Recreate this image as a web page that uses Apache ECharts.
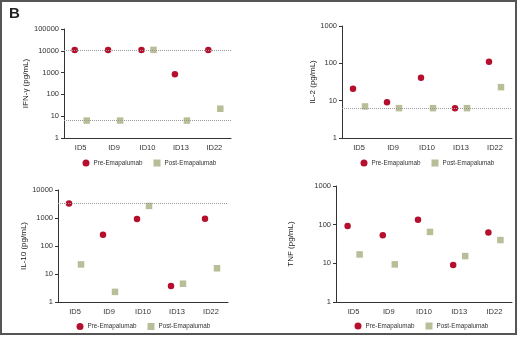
<!DOCTYPE html>
<html>
<head>
<meta charset="utf-8">
<script src="https://cdn.jsdelivr.net/npm/echarts@6/dist/echarts.min.js"></script>
<style>
  html, body { margin: 0; padding: 0; background: #fff; }
  #chart { width: 520px; height: 337px; }
</style>
</head>
<body>
<div id="chart"></div>
<script>
// patient ids on the x axis of every panel
var patients = ['ID5', 'ID9', 'ID10', 'ID13', 'ID22'];

// cytokine levels (pg/mL)
var ifngPre  = [11000, 11000, 11000, 830, 11000];
var ifngPost = [6.3, 6.3, 11000, 6.3, 22];
var il2Pre   = [21, 9, 41, 6.3, 110];
var il2Post  = [7, 6.3, 6.3, 6.3, 23];
var il10Pre  = [3300, 250, 920, 3.7, 940];
var il10Post = [22, 2.3, 2700, 4.5, 16];
var tnfPre   = [93, 53, 135, 9, 63];
var tnfPost  = [17, 9.4, 65, 15.4, 40];

// dotted reference lines (detection limits)
var ifngLines = [11000, 6.3];
var il2Lines  = [6.3];
var il10Lines = [3300];
var tnfLines  = [];

var yNames = ['IFN-\u03b3 (pg/mL)', 'IL-2 (pg/mL)', 'IL-10 (pg/mL)', 'TNF (pg/mL)'];
var yMax   = [100000, 1000, 10000, 1000];

var preName = 'Pre-Emapalumab';
var postName = 'Post-Emapalumab';

var panels = [
  { pre: ifngPre, post: ifngPost, lines: ifngLines, grid: { left: 64, top: 29, width: 167, height: 109 }, nameGap: 34, legend: { left: 82.5, top: 159.5 } },
  { pre: il2Pre,  post: il2Post,  lines: il2Lines,  grid: { left: 342, top: 26, width: 170, height: 112 }, nameGap: 23, legend: { left: 360.5, top: 159.5 } },
  { pre: il10Pre, post: il10Post, lines: il10Lines, grid: { left: 58, top: 190, width: 170, height: 112 }, nameGap: 25, legend: { left: 76.5, top: 323 } },
  { pre: tnfPre,  post: tnfPost,  lines: tnfLines,  grid: { left: 336, top: 186, width: 176, height: 116 }, nameGap: 41, legend: { left: 354.5, top: 322.5 } }
];

var font = 'Liberation Sans, Arial, sans-serif';
var axisColor = '#333';

var grids = [], xAxes = [], yAxes = [], series = [], legends = [];

panels.forEach(function (p, i) {
  grids.push(p.grid);
  xAxes.push({
    type: 'category',
    gridIndex: i,
    data: patients,
    boundaryGap: true,
    axisLine: { lineStyle: { color: axisColor, width: 1 } },
    axisTick: { alignWithLabel: true, length: 3, lineStyle: { color: axisColor } },
    axisLabel: { color: '#333', fontSize: 7.5, fontFamily: font, margin: 6 },
    splitLine: { show: false }
  });
  yAxes.push({
    type: 'log',
    logBase: 10,
    gridIndex: i,
    min: 1,
    max: yMax[i],
    name: yNames[i],
    nameLocation: 'middle',
    nameGap: p.nameGap,
    nameRotate: 90,
    nameTextStyle: { color: '#222', fontSize: 8, fontFamily: font },
    axisLine: { show: true, lineStyle: { color: axisColor, width: 1 } },
    axisTick: { show: true, length: 3, lineStyle: { color: axisColor } },
    axisLabel: {
      color: '#333', fontSize: 7.5, fontFamily: font, margin: 5,
      formatter: function (v) { return String(Math.round(v)); }
    },
    splitLine: { show: false }
  });
  series.push({
    name: preName,
    type: 'scatter',
    xAxisIndex: i,
    yAxisIndex: i,
    data: p.pre,
    symbol: 'circle',
    symbolSize: 6.5,
    symbolOffset: [-6, 0],
    itemStyle: { color: '#b50f2d', opacity: 1 },
    markLine: {
      silent: true,
      symbol: 'none',
      label: { show: false },
      lineStyle: { type: 'dotted', color: '#9a9a9a', width: 1 },
      data: p.lines.map(function (v) { return { yAxis: v }; })
    },
    z: 3
  });
  series.push({
    name: postName,
    type: 'scatter',
    xAxisIndex: i,
    yAxisIndex: i,
    data: p.post,
    symbol: 'rect',
    symbolSize: 6.5,
    symbolOffset: [6, 0],
    itemStyle: { color: '#b9bd98', opacity: 1 },
    z: 3
  });
  legends.push({
    left: p.legend.left,
    top: p.legend.top,
    padding: 0,
    itemWidth: 7,
    itemHeight: 7,
    itemGap: 11,
    textStyle: { color: '#333', fontSize: 6.3, fontFamily: font, padding: [0, 0, 0, -1] },
    data: [{ name: preName, icon: 'circle' }, { name: postName, icon: 'rect' }]
  });
});

var chart = echarts.init(document.getElementById('chart'));
chart.setOption({
  animation: false,
  backgroundColor: '#fff',
  grid: grids,
  xAxis: xAxes,
  yAxis: yAxes,
  legend: legends,
  series: series,
  graphic: [
    { type: 'rect', shape: { x: 1, y: 1, width: 515, height: 333 }, style: { fill: 'none', stroke: '#555', lineWidth: 2 }, silent: true },
    { type: 'text', left: 9, top: 6, style: { text: 'B', fill: '#222', font: 'bold 15px ' + font }, silent: true }
  ]
});
</script>
</body>
</html>
